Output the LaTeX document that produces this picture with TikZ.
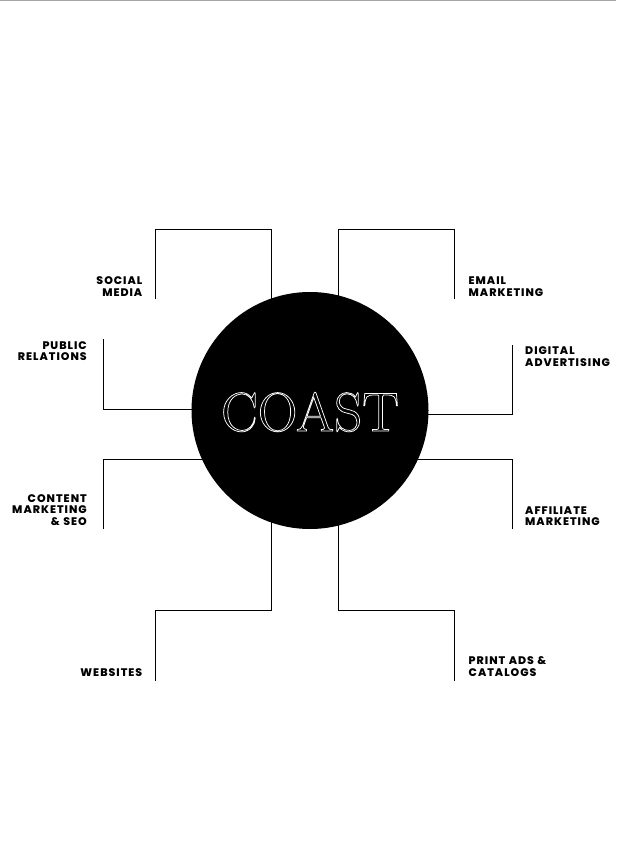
\documentclass[tikz,border=0pt]{standalone}
\usepackage{fontspec}
\usepackage{tikz}
\usetikzlibrary{positioning}
\newfontfamily\labelfont[LetterSpace=9,WordSpace=1.1]{Poppins ExtraBold}
\newcommand\outlined[1]{\special{pdf:code q 1 Tr 0.75 w 1 1 1 RG 1 1 1 rg}#1\special{pdf:code Q}}
\tikzset{
  branch/.style={draw=black,line width=1pt,line join=miter},
  leftlabel/.style={inner sep=0pt,align=right,anchor=east,font=\labelfont\fontsize{11}{11.5}\selectfont},
  rightlabel/.style={inner sep=0pt,align=left,anchor=west,font=\labelfont\fontsize{11}{11.5}\selectfont},
}
\begin{document}
\begin{tikzpicture}[x=1pt,y=-1pt]
    \useasboundingbox (0,0) rectangle (616,851);
    \fill[white] (0,0) rectangle (616,851);
    \fill[black!35] (0,0) rectangle (616,1);

    \node[circle,fill=black,minimum size=237pt,inner sep=0pt] (hub) at (310,410.5) {};

    \path
    (155.5,299) coordinate (socialend)
    (155.5,229) coordinate (socialtop)
    (271,229) coordinate (socialturn)
    (454,299) coordinate (emailend)
    (454,229) coordinate (emailtop)
    (338,229) coordinate (emailturn)
    (103,339) coordinate (publicend)
    (103,409) coordinate (publicturn)
    (512,345) coordinate (digitalend)
    (512,414) coordinate (digitalturn)
    (103,529) coordinate (contentend)
    (103,459) coordinate (contentturn)
    (512,529) coordinate (affiliateend)
    (512,459) coordinate (affiliateturn)
    (155.5,681) coordinate (websitesend)
    (155.5,610) coordinate (websitesbot)
    (271,610) coordinate (websitesturn)
    (454,681) coordinate (printend)
    (454,610) coordinate (printbot)
    (338,610) coordinate (printturn)
    ;

    \draw[branch] (socialend) -- (socialtop) -- (socialturn) -- (socialturn |- hub.center);
    \draw[branch] (emailend) -- (emailtop) -- (emailturn) -- (emailturn |- hub.center);
    \draw[branch] (publicend) -- (publicturn) -- (publicturn -| hub.center);
    \draw[branch] (digitalend) -- (digitalturn) -- (digitalturn -| hub.center);
    \draw[branch] (contentend) -- (contentturn) -- (contentturn -| hub.center);
    \draw[branch] (affiliateend) -- (affiliateturn) -- (affiliateturn -| hub.center);
    \draw[branch] (websitesend) -- (websitesbot) -- (websitesturn) -- (websitesturn |- hub.center);
    \draw[branch] (printend) -- (printbot) -- (printturn) -- (printturn |- hub.center);

    \node[inner sep=0pt,text=white,font=\rmfamily\fontsize{55}{55}\selectfont] (title) at (310,412) {\outlined{COAST}};

    \node[leftlabel] (social) at (142.5,286.5) {SOCIAL\\MEDIA};
    \node[rightlabel] (email) at (468.5,286.5) {EMAIL\\MARKETING};
    \node[leftlabel] (public) at (87,351) {PUBLIC\\RELATIONS};
    \node[rightlabel] (digital) at (525,356.5) {DIGITAL\\ADVERTISING};
    \node[leftlabel] (content) at (87,510) {CONTENT\\MARKETING\\\& SEO};
    \node[rightlabel] (affiliate) at (525,516) {AFFILIATE\\MARKETING};
    \node[leftlabel] (websites) at (142.5,672.5) {WEBSITES};
    \node[rightlabel] (print) at (468.5,666.5) {PRINT ADS \&\\CATALOGS};
\end{tikzpicture}
\end{document}
